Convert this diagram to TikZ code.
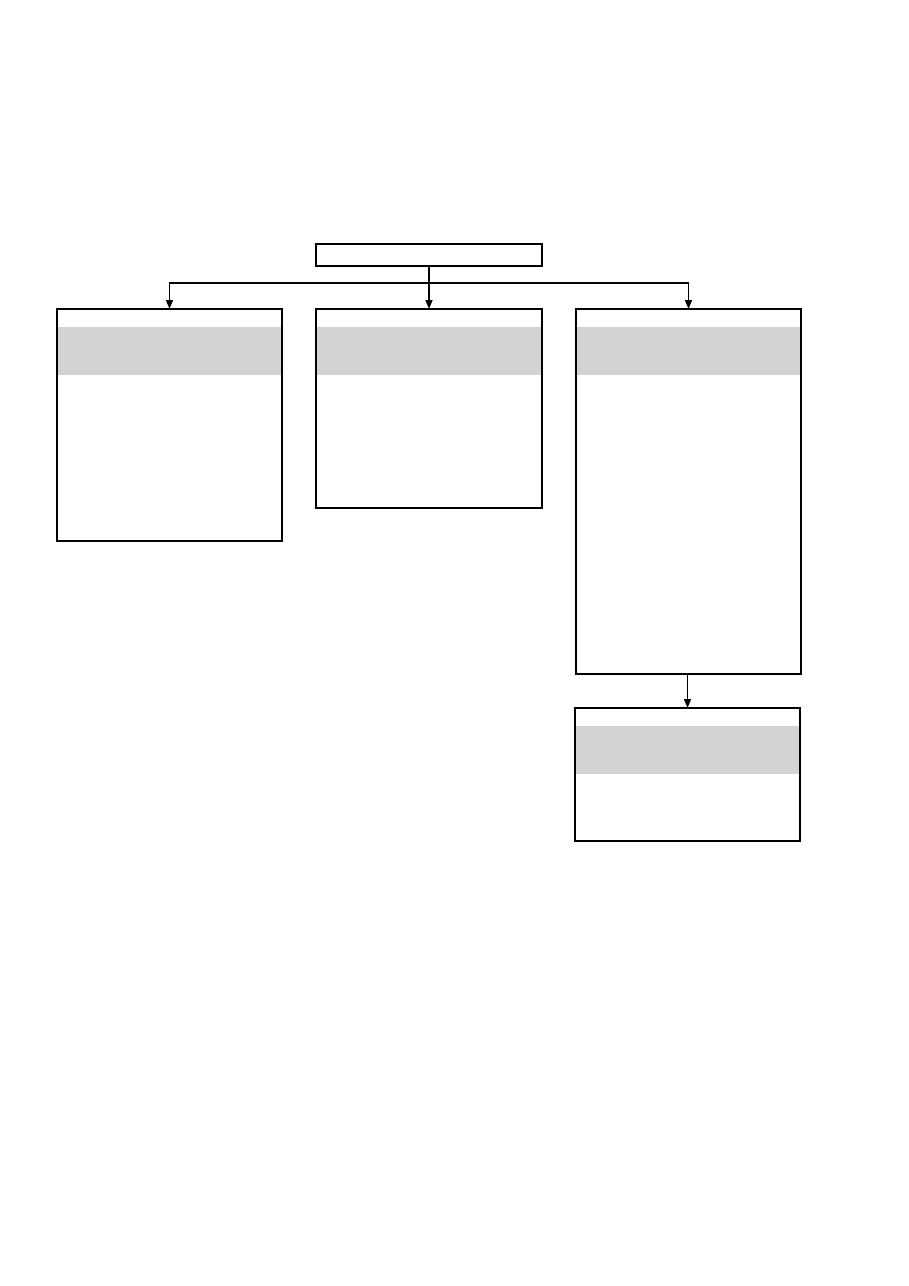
\documentclass[tikz,border=0pt]{standalone}
\usepackage{xcolor}
\definecolor{bandgray}{RGB}{211, 211, 211}
\usepackage{tikz}
\usetikzlibrary{arrows.meta, calc}

\tikzset{
  box/.style={draw, line width=1.5pt, inner sep=0pt, outer sep=0pt, anchor=north west},
  banded/.style={box, path picture={
      \fill[bandgray] ([yshift=-18pt]path picture bounding box.north west)
        rectangle ([yshift=-66pt]path picture bounding box.north east);}},
  arr/.style={line width=1.5pt, -{Triangle[length=9pt,width=7pt]}}
}

\begin{document}
\begin{tikzpicture}[x=1pt, y=-1pt]
  \useasboundingbox (0,0) rectangle (909,1286);
  \node[box, minimum width=226pt, minimum height=22pt] (top) at (316,244) {};
  \node[banded, minimum width=225pt, minimum height=232pt] (left) at (57,309) {};
  \node[banded, minimum width=226pt, minimum height=199pt] (middle) at (316,309) {};
  \node[banded, minimum width=225pt, minimum height=365pt] (right) at (576,309) {};
  \node[banded, minimum width=225pt, minimum height=133pt] (bottom) at (575,708) {};
  % split point under the top box
  \coordinate (split) at ($(top.south)+(0,17)$);
  \draw[line width=1.5pt] (top.south) -- (split);
  \draw[arr] (split) -| (left.north);
  \draw[arr] (split) -- (middle.north);
  \draw[arr] (split) -| (right.north);
  \draw[arr] (bottom.north |- right.south) -- (bottom.north);
\end{tikzpicture}
\end{document}
